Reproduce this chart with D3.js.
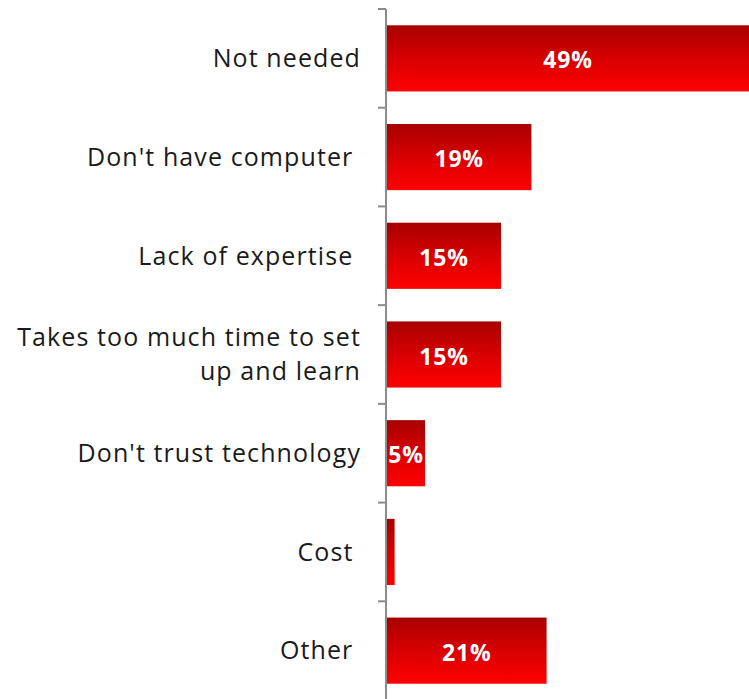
<!DOCTYPE html>
<html>
<head>
<meta charset="utf-8">
<script src="https://cdn.jsdelivr.net/npm/d3@7"></script>
<style>
  html, body { margin: 0; padding: 0; background: #fff; }
  svg { display: block; }
  .cat { font-family: "Open Sans", sans-serif; font-size: 25px; letter-spacing: 1.1px; fill: #1a1a1a; white-space: pre; }
  .val { font-family: "Open Sans", sans-serif; font-weight: 700; font-size: 23px; letter-spacing: 0.8px; fill: #fff; }
</style>
</head>
<body>
<svg id="chart" width="749" height="699"></svg>
<script>
// Reasons given for not using the technology (share of respondents, %)
const categories = [
  ["Not needed"],
  ["Don't have computer "],
  ["Lack of expertise "],
  ["Takes too much time to set", "up and learn"],
  ["Don't trust technology"],
  ["Cost "],
  ["Other "]
];
const values = [49, 19, 15, 15, 5, 1, 21];
const valueLabels = ["49%", "19%", "15%", "15%", "5%", "", "21%"];

const W = 749, H = 699;
const axisX = 386;
const svg = d3.select("#chart");

const keys = categories.map((c, i) => i);
const y = d3.scaleBand().domain(keys).range([9, 700]).paddingInner(0.33).paddingOuter(0.165);
const x = d3.scaleLinear().domain([0, 50]).range([axisX + 1, axisX + 1 + 50 * 7.6]);

// bar gradient: dark red at top fading to bright red
const defs = svg.append("defs");
const grad = defs.append("linearGradient").attr("id", "barGrad")
  .attr("x1", 0).attr("y1", 0).attr("x2", 0).attr("y2", 1);
grad.append("stop").attr("offset", "0%").attr("stop-color", "#a80000");
grad.append("stop").attr("offset", "55%").attr("stop-color", "#dc0000");
grad.append("stop").attr("offset", "100%").attr("stop-color", "#ff0000");

defs.append("clipPath").attr("id", "plotClip")
  .append("rect").attr("x", axisX + 1).attr("y", 0).attr("width", W - axisX - 1).attr("height", H);

const plot = svg.append("g").attr("clip-path", "url(#plotClip)");

const bars = plot.selectAll("g.bar").data(keys).join("g").attr("class", "bar");
bars.append("rect")
  .attr("x", x(0))
  .attr("y", d => y(d))
  .attr("width", d => x(values[d]) - x(0))
  .attr("height", y.bandwidth())
  .attr("fill", "url(#barGrad)");

bars.append("text")
  .attr("class", "val")
  .attr("text-anchor", "middle")
  .attr("dominant-baseline", "central")
  .attr("x", d => (x(0) + Math.min(x(values[d]), W)) / 2)
  .attr("y", d => y(d) + y.bandwidth() / 2 + 1)
  .text(d => valueLabels[d]);

// category axis: vertical line with ticks at band boundaries
const step = y.step();
const start = y(0) - y.paddingInner() * step / 2;
const boundaries = d3.range(keys.length + 1).map(i => start + i * step);
svg.append("line")
  .attr("x1", axisX).attr("x2", axisX)
  .attr("y1", boundaries[0]).attr("y2", H)
  .attr("stroke", "#8c8c8c").attr("stroke-width", 2);
svg.selectAll("line.tick").data(boundaries.slice(0, -1)).join("line")
  .attr("class", "tick")
  .attr("x1", axisX - 8).attr("x2", axisX)
  .attr("y1", d => d).attr("y2", d => d)
  .attr("stroke", "#8c8c8c").attr("stroke-width", 2);

// category labels
const lineH = 34;
const labels = svg.selectAll("text.cat").data(keys).join("text")
  .attr("class", "cat")
  .attr("text-anchor", "end")
  .attr("y", d => y(d) + y.bandwidth() / 2);
labels.each(function(d) {
  const lines = categories[d];
  const t = d3.select(this);
  lines.forEach((ln, j) => {
    t.append("tspan")
      .attr("x", 361)
      .attr("y", y(d) + y.bandwidth() / 2 + (j - (lines.length - 1) / 2) * lineH)
      .attr("dy", "0.35em")
      .text(ln);
  });
});
</script>
</body>
</html>
